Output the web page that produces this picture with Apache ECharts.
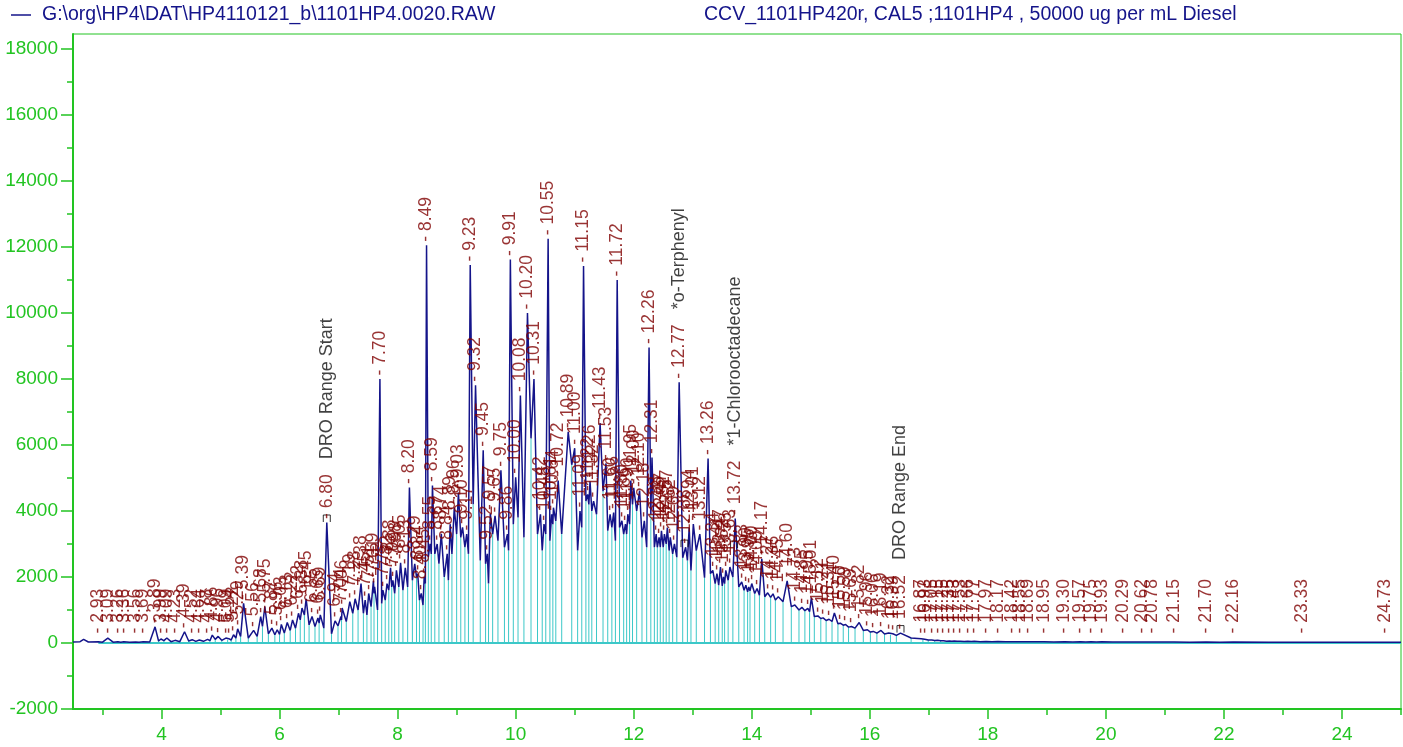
<!DOCTYPE html>
<html>
<head>
<meta charset="utf-8">
<title>1101HP4.0020 chromatogram</title>
<script src="https://cdn.jsdelivr.net/npm/echarts@6/dist/echarts.min.js"></script>
<style>
  html, body { margin: 0; padding: 0; background: #ffffff; }
  #chart { width: 1403px; height: 747px; }
</style>
</head>
<body>
<div id="chart"></div>
<script>
// Labelled peak apexes: retention time (min) and detector response
const peakRT = [
  2.93, 3.09, 3.26, 3.36, 3.56, 3.69, 3.89, 3.99, 4.09, 4.23, 4.39, 4.52, 4.64, 4.78, 4.86, 4.96,
  5.09, 5.14, 5.22, 5.29, 5.39, 5.56, 5.68, 5.75, 5.87, 5.96, 6.03, 6.13, 6.22, 6.32, 6.38, 6.45,
  6.55, 6.65, 6.69, 6.80, 6.94, 7.04, 7.06, 7.19, 7.28, 7.38, 7.45, 7.51, 7.59, 7.61, 7.70, 7.75,
  7.82, 7.88, 7.92, 7.98, 8.05, 8.13, 8.20, 8.29, 8.34, 8.40, 8.45, 8.49, 8.55, 8.59, 8.67, 8.74,
  8.84, 8.89, 8.96, 9.03, 9.10, 9.17, 9.23, 9.32, 9.45, 9.52, 9.57, 9.65, 9.75, 9.86, 9.91, 10.00,
  10.08, 10.20, 10.31, 10.42, 10.48, 10.55, 10.61, 10.64, 10.72, 10.89, 11.00, 11.09, 11.15, 11.22,
  11.26, 11.32, 11.43, 11.53, 11.60, 11.66, 11.72, 11.80, 11.86, 11.90, 11.95, 12.00, 12.10, 12.18,
  12.26, 12.31, 12.38, 12.43, 12.47, 12.52, 12.57, 12.62, 12.69, 12.77, 12.88, 12.94, 13.01, 13.12,
  13.26, 13.34, 13.41, 13.47, 13.52, 13.56, 13.63, 13.72, 13.83, 13.90, 13.95, 14.00, 14.09, 14.17,
  14.27, 14.36, 14.45, 14.60, 14.73, 14.85, 14.95, 15.01, 15.12, 15.21, 15.31, 15.40, 15.50, 15.59,
  15.69, 15.82, 15.96, 16.06, 16.19, 16.32, 16.39, 16.52, 16.87, 16.93, 17.05, 17.15, 17.25, 17.35,
  17.43, 17.53, 17.66, 17.77, 17.97, 18.17, 18.42, 18.55, 18.69, 18.95, 19.30, 19.57, 19.75, 19.93,
  20.29, 20.62, 20.78, 21.15, 21.70, 22.16, 23.33, 24.73
];
const peakHeight = [
  40, 150, 40, 35, 30, 40, 490, 120, 150, 80, 340, 100, 90, 110, 240, 200,
  150, 130, 250, 430, 1200, 380, 800, 1100, 450, 400, 560, 620, 700, 900, 1060, 1340,
  800, 760, 850, 3650, 670, 800, 1060, 1250, 1340, 1800, 1300, 1500, 1880, 1700, 8000, 1600,
  1800, 2280, 1900, 2200, 2430, 2280, 4710, 2400, 2100, 1500, 2000, 12050, 3000, 4770, 3000, 3310,
  2700, 3600, 4100, 4560, 3500, 3300, 11450, 7810, 5840, 2700, 3920, 3850, 5230, 3300, 11620, 5020,
  7500, 10000, 8000, 3900, 3600, 12250, 3900, 4100, 4920, 6400, 5900, 4000, 11420, 4500,
  4900, 4300, 6660, 5440, 3900, 3950, 11000, 3700, 3600, 3900, 4920, 4700, 4620, 3700,
  8950, 5620, 3300, 3200, 3400, 3300, 3500, 3200, 3000, 7900, 2900, 3500, 3600, 3300,
  5590, 2200, 2100, 2300, 2000, 2200, 2300, 3770, 1850, 1750, 1700, 1800, 1650, 2550,
  1520, 1490, 1400, 1880, 1150, 1080, 1050, 1370, 820, 760, 720, 910, 600, 560,
  500, 620, 400, 350, 380, 300, 280, 300, 130, 110, 90, 80, 70, 60,
  60, 55, 50, 50, 45, 45, 40, 40, 40, 40, 35, 35, 35, 35,
  30, 30, 30, 30, 30, 30, 25, 25
];

// Trace points between the labelled apexes (valleys and baseline stretches)
const valleyRT = [
  2.50, 2.62, 2.68, 2.76, 3.00, 3.18, 3.31, 3.46, 3.62, 3.80, 3.95, 4.04, 4.16, 4.31, 4.46, 4.58,
  4.71, 4.82, 4.91, 5.02, 5.12, 5.18, 5.26, 5.34, 5.47, 5.62, 5.71, 5.81, 5.92, 6.00, 6.08, 6.18,
  6.27, 6.35, 6.42, 6.50, 6.60, 6.67, 6.75, 6.88, 6.99, 7.05, 7.13, 7.24, 7.33, 7.42, 7.48, 7.55,
  7.60, 7.66, 7.73, 7.79, 7.85, 7.90, 7.95, 8.02, 8.09, 8.17, 8.25, 8.32, 8.37, 8.43, 8.47, 8.52,
  8.57, 8.63, 8.70, 8.79, 8.86, 8.92, 9.00, 9.07, 9.14, 9.20, 9.28, 9.40, 9.49, 9.54, 9.61, 9.70,
  9.81, 9.88, 9.96, 10.04, 10.14, 10.26, 10.37, 10.45, 10.51, 10.58, 10.63, 10.68, 10.78, 10.95,
  11.05, 11.12, 11.19, 11.24, 11.29, 11.37, 11.48, 11.56, 11.63, 11.69, 11.76, 11.83, 11.88, 11.93,
  11.98, 12.05, 12.14, 12.22, 12.29, 12.35, 12.40, 12.45, 12.50, 12.55, 12.60, 12.66, 12.73, 12.83,
  12.91, 12.97, 13.06, 13.20, 13.30, 13.38, 13.44, 13.50, 13.54, 13.60, 13.68, 13.78, 13.87, 13.93,
  13.97, 14.05, 14.13, 14.22, 14.32, 14.40, 14.53, 14.67, 14.80, 14.90, 14.98, 15.06, 15.17, 15.26,
  15.36, 15.46, 15.55, 15.64, 15.75, 15.89, 16.01, 16.12, 16.25, 16.35, 16.45, 16.70, 16.90, 16.99,
  17.10, 17.20, 17.30, 17.39, 17.48, 17.60, 17.72, 17.87, 18.07, 18.30, 18.48, 18.62, 18.82, 19.12,
  19.44, 19.66, 19.84, 20.11, 20.45, 20.70, 20.96, 21.42, 21.93, 22.75, 24.03, 25.00
];
const valleyLevel = [
  30, 40, 110, 30, 25, 25, 20, 20, 20, 30, 60, 70, 40, 40, 60, 50,
  50, 70, 110, 80, 100, 90, 150, 200, 150, 200, 500, 280, 250, 260, 300, 380,
  450, 700, 850, 550, 500, 600, 450, 280, 520, 700, 650, 900, 1000, 900, 850, 1100,
  1500, 1000, 1200, 1300, 1600, 1700, 1500, 1700, 1600, 1700, 1900, 2000, 1300, 1150, 1800, 2600,
  2700, 2700, 2400, 2000, 1900, 2700, 3300, 3200, 2900, 2700, 4200, 2500, 2400, 1800, 3300, 3100,
  2900, 2800, 3600, 3800, 3200, 6200, 3300, 2800, 3300, 3100, 3600, 3700, 3300, 5400,
  2800, 3500, 4300, 4200, 4000, 3900, 4600, 3400, 3500, 3100, 3500, 3300, 3300, 3600,
  4200, 4000, 3200, 2900, 3900, 2900, 2900, 2900, 2900, 3000, 2800, 2700, 2600, 2580,
  2500, 2200, 2800, 1980, 2100, 1800, 1750, 1730, 1800, 1900, 2000, 1700, 1600, 1550,
  1580, 1500, 1450, 1400, 1380, 1300, 1250, 1100, 1000, 980, 950, 800, 740, 680,
  650, 580, 540, 480, 450, 380, 330, 300, 270, 250, 230, 150, 100, 90,
  75, 65, 55, 50, 50, 45, 45, 40, 40, 35, 35, 35, 35, 30,
  30, 30, 30, 28, 28, 28, 27, 26, 26, 25, 24, 24
];

// Names printed after the retention time of marked peaks
const peakNames = {
  '6.80': 'DRO Range Start',
  '12.77': '*o-Terphenyl',
  '13.72': '*1-Chlorooctadecane',
  '16.52': 'DRO Range End'
};

// Window brackets drawn on the trace
const bracketRT = [6.80, 12.86, 13.70, 16.52];
const bracketLevel = [3650, 2890, 2860, 300];

// Axis ticks
const xTicks = [4, 6, 8, 10, 12, 14, 16, 18, 20, 22, 24];
const xMinorTicks = [3, 5, 7, 9, 11, 13, 15, 17, 19, 21, 23, 25];
const yTicks = [-2000, 0, 2000, 4000, 6000, 8000, 10000, 12000, 14000, 16000, 18000];
const yMinorTicks = [-1000, 1000, 3000, 5000, 7000, 9000, 11000, 13000, 15000, 17000];

const fileName = 'G:\\org\\HP4\\DAT\\HP4110121_b\\1101HP4.0020.RAW';
const sampleTitle = 'CCV_1101HP420r, CAL5 ;1101HP4 , 50000 ug per mL Diesel';

const X_MIN = 2.5, X_MAX = 25, Y_MIN = -2000, Y_MAX = 18450;
const GREEN = '#22c422';
const NAVY = '#14148a';
const CYAN = '#3cc8c8';
const RED = '#800000';
const FONT = '"Liberation Sans", Arial, Helvetica, sans-serif';

// Full trace: apexes and valleys merged in time order
const trace = peakRT.map((t, i) => [t, peakHeight[i]])
  .concat(valleyRT.map((t, i) => [t, valleyLevel[i]]))
  .sort((a, b) => a[0] - b[0]);

// Integration drop lines at the valleys inside the labelled range
const firstRT = peakRT[0], lastRT = peakRT[peakRT.length - 1];
const dropLines = valleyRT
  .map((t, i) => [t, valleyLevel[i]])
  .filter(p => p[0] > firstRT && p[0] < lastRT);

// Label anchors: apex, but never closer to the baseline than a small floor
const LABEL_FLOOR = 180;
const labelPoints = peakRT.map((t, i) => [t, Math.max(peakHeight[i], LABEL_FLOOR)]);

const chart = echarts.init(document.getElementById('chart'), null, { renderer: 'canvas' });

const baseAxisX = {
  type: 'value', min: X_MIN, max: X_MAX, position: 'bottom',
  splitLine: { show: false }
};
const baseAxisY = {
  type: 'value', min: Y_MIN, max: Y_MAX, position: 'left',
  splitLine: { show: false }
};

chart.setOption({
  animation: false,
  backgroundColor: '#ffffff',
  textStyle: { fontFamily: FONT },
  grid: {
    left: 73, right: 2, top: 34, bottom: 38,
    show: true, borderColor: GREEN, borderWidth: 1, backgroundColor: 'transparent'
  },
  graphic: [
    {
      type: 'line', z: 10,
      shape: { x1: 11, y1: 15, x2: 31, y2: 15 },
      style: { stroke: NAVY, lineWidth: 1.5 }
    },
    {
      type: 'text', z: 10, x: 42, y: 15,
      style: { text: fileName, fill: NAVY, font: '19.5px ' + FONT, textVerticalAlign: 'middle' }
    },
    {
      type: 'text', z: 10, x: 704, y: 15,
      style: { text: sampleTitle, fill: NAVY, font: '19.5px ' + FONT, textVerticalAlign: 'middle' }
    }
  ],
  xAxis: [
    Object.assign({}, baseAxisX, {
      axisLine: { show: true, onZero: false, lineStyle: { color: GREEN, width: 2 } },
      axisTick: { show: true, customValues: xTicks, length: 10, lineStyle: { color: GREEN, width: 1.5 } },
      axisLabel: { show: true, customValues: xTicks, color: GREEN, fontSize: 19, margin: 16, fontFamily: FONT,
                   formatter: v => String(v) }
    }),
    Object.assign({}, baseAxisX, {
      axisLine: { show: false, onZero: false },
      axisTick: { show: true, customValues: xMinorTicks, length: 6, lineStyle: { color: GREEN, width: 1.5 } },
      axisLabel: { show: false }
    })
  ],
  yAxis: [
    Object.assign({}, baseAxisY, {
      axisLine: { show: true, onZero: false, lineStyle: { color: GREEN, width: 2 } },
      axisTick: { show: true, customValues: yTicks, length: 12, lineStyle: { color: GREEN, width: 1.5 } },
      axisLabel: { show: true, customValues: yTicks, color: GREEN, fontSize: 19, margin: 15, fontFamily: FONT,
                   formatter: v => String(v) }
    }),
    Object.assign({}, baseAxisY, {
      axisLine: { show: false, onZero: false },
      axisTick: { show: true, customValues: yMinorTicks, length: 6, lineStyle: { color: GREEN, width: 1.5 } },
      axisLabel: { show: false }
    })
  ],
  series: [
    {
      // baseline under the integrated range
      type: 'line', name: 'baseline', z: 1, silent: true,
      data: [[firstRT, 0], [X_MAX, 0]],
      showSymbol: false,
      lineStyle: { color: CYAN, width: 2 }
    },
    {
      type: 'custom', name: 'drop lines', z: 2, silent: true,
      data: dropLines,
      renderItem: function (params, api) {
        const p0 = api.coord([api.value(0), 0]);
        const p1 = api.coord([api.value(0), api.value(1)]);
        return {
          type: 'line',
          shape: { x1: p0[0], y1: p0[1], x2: p1[0], y2: p1[1] },
          style: { stroke: CYAN, lineWidth: 1 }
        };
      }
    },
    {
      type: 'line', name: fileName, z: 3, silent: true,
      data: trace,
      showSymbol: false,
      lineStyle: { color: NAVY, width: 1.5 }
    },
    {
      type: 'scatter', name: 'brackets', z: 4, silent: true,
      data: bracketRT.map((t, i) => [t, bracketLevel[i]]),
      symbol: 'path://M0,10 L0,0 L10,0 L10,10',
      symbolSize: [7, 7],
      symbolOffset: [0, -4],
      itemStyle: { color: 'none', borderColor: '#000000', borderWidth: 1 }
    },
    {
      type: 'scatter', name: 'peak labels', z: 5, silent: true,
      data: labelPoints,
      symbolSize: 1,
      itemStyle: { color: 'rgba(0,0,0,0)' },
      label: {
        show: true,
        position: 'top',
        distance: 3,
        rotate: 90,
        align: 'left',
        verticalAlign: 'middle',
        formatter: function (p) {
          const t = peakRT[p.dataIndex].toFixed(2);
          const n = peakNames[t];
          return n ? '{r|- ' + t + '}{k|   ' + n + '}' : '{r|- ' + t + '}';
        },
        rich: {
          r: { color: RED, fontSize: 17.5, fontFamily: FONT, verticalAlign: 'middle' },
          k: { color: '#111111', fontSize: 18, fontFamily: FONT, verticalAlign: 'middle' }
        }
      },
      labelLayout: { hideOverlap: false }
    }
  ]
});
</script>
</body>
</html>
